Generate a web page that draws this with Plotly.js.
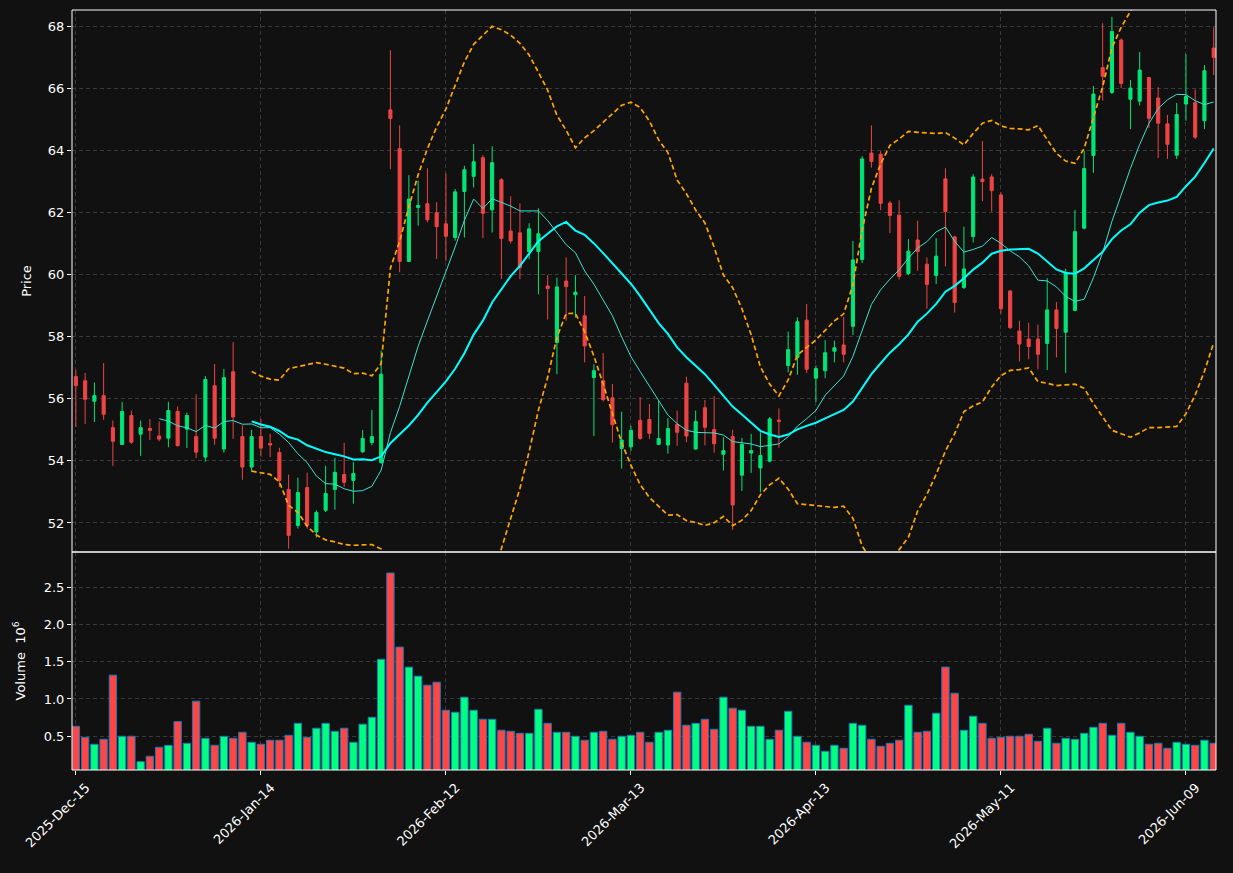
<!DOCTYPE html>
<html>
<head>
<meta charset="utf-8">
<script src="https://cdn.plot.ly/plotly-3.0.1.min.js"></script>
<style>html,body{margin:0;padding:0;background:#111111;}#chart{width:1233px;height:873px;}</style>
</head>
<body>
<div id="chart"></div>
<script>
// ---- data ----
const tickIdx = [0, 20, 40, 60, 80, 100, 120];
const tickLabels = ['2025-Dec-15','2026-Jan-14','2026-Feb-12','2026-Mar-13','2026-Apr-13','2026-May-11','2026-Jun-09'];

const opens = [56.71,56.58,55.92,56.10,55.07,54.53,55.46,54.86,55.04,54.80,
54.73,55.59,55.02,54.78,54.12,56.42,54.38,56.87,54.78,53.80,
54.78,54.56,54.27,53.08,51.92,53.14,51.71,52.41,53.08,53.56,
53.37,54.29,54.59,53.95,65.30,64.05,60.42,62.16,62.28,61.99,
61.63,61.19,62.67,63.16,63.76,62.08,63.05,61.40,61.34,60.74,
60.74,59.63,57.81,59.79,59.35,58.67,56.68,56.58,56.03,54.40,
54.45,55.30,55.33,54.53,54.51,55.17,56.50,54.38,55.71,55.01,
54.21,54.78,53.54,54.25,53.77,53.99,55.31,57.07,57.33,58.53,
56.66,56.90,57.53,57.73,58.33,60.48,63.91,63.87,62.30,61.91,
60.03,61.11,60.33,59.97,63.08,61.21,59.58,61.22,63.07,63.14,
62.56,59.47,58.18,57.92,57.92,57.78,58.86,58.14,58.84,61.49,
63.83,66.66,65.86,67.55,65.64,65.58,66.34,65.68,64.85,63.84,
65.49,65.53,64.95,67.29];
const highs = [56.93,56.83,56.52,57.15,55.30,55.90,55.62,55.30,55.35,55.27,
55.90,55.75,55.55,56.14,56.73,57.12,56.96,57.82,55.14,55.00,
55.35,54.87,54.42,53.56,53.46,53.62,52.41,53.84,54.10,54.58,
53.96,54.99,55.64,57.55,67.22,64.80,63.20,63.02,63.42,62.33,
63.25,62.75,63.50,64.20,63.84,64.13,63.10,62.52,62.29,61.65,
62.13,59.98,59.90,60.55,59.98,59.31,57.11,57.47,56.47,55.58,
55.13,56.05,55.83,55.94,55.37,55.62,56.71,55.62,55.96,56.09,
54.76,55.00,54.74,54.87,54.92,55.41,55.69,58.16,58.62,59.05,
57.07,57.89,57.87,58.64,61.08,63.81,64.80,63.97,62.37,62.39,
61.14,61.73,60.55,61.17,63.42,61.25,61.54,63.23,64.30,63.23,
62.64,59.50,58.51,58.45,58.38,59.88,59.11,60.18,62.08,63.99,
66.07,68.09,68.30,67.60,66.26,67.16,66.35,66.03,65.14,65.52,
67.10,65.96,66.74,67.96];
const lows = [55.09,55.19,55.25,55.32,53.84,54.51,54.55,54.16,54.67,54.63,
54.44,54.46,54.41,54.09,53.97,54.52,54.26,54.71,53.39,53.64,
54.14,54.12,53.16,51.17,51.82,51.82,51.53,52.35,52.43,53.16,
52.62,54.25,54.50,53.90,63.39,60.07,60.40,61.57,61.68,60.50,
60.44,61.09,61.19,62.80,61.17,61.35,59.85,61.00,59.85,60.49,
59.36,58.55,56.79,58.51,58.61,57.17,54.80,55.91,54.59,53.75,
54.32,54.68,54.71,54.50,54.23,54.48,54.60,54.36,54.50,54.26,
53.69,51.78,53.03,53.61,52.99,53.95,54.42,56.85,56.77,56.83,
55.89,56.66,57.17,57.17,58.05,60.37,63.44,62.07,61.33,59.84,
59.98,60.12,58.90,59.69,60.26,58.77,59.53,61.03,62.36,62.02,
58.74,58.24,57.20,57.27,56.95,56.92,57.33,56.83,58.82,61.45,
63.27,65.60,65.81,66.00,64.68,65.44,64.72,63.75,63.72,63.72,
64.95,64.36,64.68,66.42];
const closes = [56.42,55.98,56.10,55.50,54.63,55.59,54.60,55.07,54.98,54.70,
55.62,54.49,55.46,54.28,56.62,54.73,56.68,55.41,53.80,54.78,
54.41,54.51,53.37,51.60,52.98,51.92,52.34,52.95,53.63,53.31,
53.59,54.72,54.78,56.79,65.02,60.42,62.43,62.22,61.76,61.54,
61.23,62.66,63.37,63.63,61.97,63.60,61.16,61.08,60.22,61.47,
61.31,59.55,59.60,59.61,59.43,57.70,56.90,55.97,55.16,54.67,
54.98,54.72,54.89,54.72,55.04,54.92,54.80,55.27,55.08,54.55,
54.33,52.58,54.53,54.33,54.17,55.35,55.27,57.58,58.48,56.95,
56.97,57.48,57.64,57.43,60.47,63.72,63.64,62.29,61.90,59.94,
60.75,60.74,59.68,60.59,62.03,59.10,60.18,63.14,62.99,62.70,
58.90,58.29,57.76,57.68,57.43,58.86,58.26,60.07,61.38,63.41,
65.81,66.38,67.82,66.15,66.00,66.58,65.03,64.87,64.19,65.15,
65.73,64.42,66.56,66.99];
// volume in millions (axis label carries the 10^6)
const volumes = [0.634,0.486,0.393,0.460,1.319,0.500,0.500,0.160,0.232,0.353,
0.379,0.697,0.406,0.970,0.473,0.379,0.500,0.473,0.554,0.420,
0.393,0.447,0.447,0.513,0.674,0.486,0.608,0.674,0.567,0.608,
0.420,0.662,0.755,1.532,2.688,1.695,1.427,1.306,1.185,1.225,
0.849,0.822,1.024,0.849,0.728,0.728,0.581,0.567,0.540,0.540,
0.862,0.674,0.554,0.554,0.500,0.447,0.554,0.567,0.460,0.500,
0.513,0.554,0.420,0.554,0.581,1.091,0.648,0.674,0.728,0.594,
1.024,0.876,0.849,0.634,0.634,0.460,0.581,0.835,0.500,0.420,
0.379,0.299,0.379,0.339,0.674,0.648,0.460,0.366,0.406,0.447,
0.916,0.554,0.567,0.809,1.427,1.077,0.581,0.769,0.674,0.473,
0.486,0.500,0.500,0.527,0.433,0.608,0.406,0.473,0.460,0.540,
0.621,0.674,0.513,0.674,0.554,0.500,0.393,0.406,0.339,0.420,
0.393,0.379,0.447,0.406];

// ---- derived indicators (same as the original: SMA10, SMA20, Bollinger 20/2) ----
const idx = closes.map((_, i) => i);
function sma(a, w) {
  return a.map((_, i) => {
    if (i < w - 1) return null;
    let s = 0; for (let k = i - w + 1; k <= i; k++) s += a[k];
    return s / w;
  });
}
function rstd(a, w) {
  const m = sma(a, w);
  return a.map((_, i) => {
    if (i < w - 1) return null;
    let s = 0; for (let k = i - w + 1; k <= i; k++) s += (a[k] - m[i]) ** 2;
    return Math.sqrt(s / (w - 1));
  });
}
const ma10 = sma(closes, 10);
const ma20 = sma(closes, 20);
const sd20 = rstd(closes, 20);
const bbUp = ma20.map((m, i) => m === null ? null : m + 2 * sd20[i]);
const bbLo = ma20.map((m, i) => m === null ? null : m - 2 * sd20[i]);

const UP = '#00e676', DN = '#ef4444';
const VUP = '#00ff80', VDN = '#ff4545';
const volColors = closes.map((c, i) => c >= opens[i] ? VUP : VDN);

const traces = [
  {type:'candlestick', x: idx, open: opens, high: highs, low: lows, close: closes,
   xaxis:'x', yaxis:'y',
   increasing:{line:{color:UP, width:1}, fillcolor:UP},
   decreasing:{line:{color:DN, width:1}, fillcolor:DN},
   whiskerwidth:0, hoverinfo:'skip'},
  {type:'scatter', mode:'lines', x: idx, y: bbUp, xaxis:'x', yaxis:'y',
   line:{color:'#ffa500', width:1.7, dash:'5px,3px'}, hoverinfo:'skip'},
  {type:'scatter', mode:'lines', x: idx, y: bbLo, xaxis:'x', yaxis:'y',
   line:{color:'#ffa500', width:1.7, dash:'5px,3px'}, hoverinfo:'skip'},
  {type:'scatter', mode:'lines', x: idx, y: ma10, xaxis:'x', yaxis:'y',
   line:{color:'#40e0d0', width:1}, hoverinfo:'skip'},
  {type:'scatter', mode:'lines', x: idx, y: ma20, xaxis:'x', yaxis:'y',
   line:{color:'#00ffff', width:2}, hoverinfo:'skip'},
  {type:'bar', x: idx, y: volumes, xaxis:'x', yaxis:'y2', width:0.8,
   marker:{color: volColors, line:{color:'#1f77b4', width:1}}, hoverinfo:'skip'}
];

const split = (770 - 552) / 760;
const gridCol = '#3a3a3a';
const layout = {
  width:1233, height:873,
  paper_bgcolor:'#111111', plot_bgcolor:'#111111',
  margin:{l:72, r:17, t:10, b:103, pad:0},
  showlegend:false, hovermode:false, boxgap:0.52,
  font:{family:'DejaVu Sans, sans-serif', color:'#ffffff', size:13},
  xaxis:{domain:[0,1], anchor:'y2', range:[-0.42, 123.25],
    tickmode:'array', tickvals:tickIdx, ticktext:tickLabels, tickangle:-45,
    ticklabelshift:10,
    ticks:'outside', ticklen:4, tickcolor:'#ffffff', tickwidth:1,
    showgrid:true, gridcolor:gridCol, griddash:'4px,3px', gridwidth:1,
    zeroline:false, showline:false, rangeslider:{visible:false}},
  yaxis:{domain:[split,1], anchor:'x', range:[51.065, 68.515],
    tickmode:'array', tickvals:[52,54,56,58,60,62,64,66,68],
    ticks:'outside', ticklen:4, tickcolor:'#ffffff',
    showgrid:true, gridcolor:gridCol, griddash:'4px,3px', zeroline:false,
    title:{text:'Price', font:{size:13, color:'#ffffff'}, standoff:13}},
  yaxis2:{domain:[0,split], anchor:'x', range:[0.048, 2.97],
    tickmode:'array', tickvals:[0.5,1.0,1.5,2.0,2.5], ticktext:['0.5','1.0','1.5','2.0','2.5'],
    ticks:'outside', ticklen:4, tickcolor:'#ffffff',
    showgrid:true, gridcolor:gridCol, griddash:'4px,3px', zeroline:false,
    title:{text:'Volume  10<sup>6</sup>', font:{size:13, color:'#ffffff'}, standoff:15}},
  shapes:[
    {type:'rect', xref:'paper', yref:'paper', x0:0, x1:1, y0:split, y1:1, line:{color:'#ffffff', width:1}},
    {type:'rect', xref:'paper', yref:'paper', x0:0, x1:1, y0:0, y1:split, line:{color:'#ffffff', width:1}}
  ]
};

Plotly.newPlot('chart', traces, layout, {displayModeBar:false, staticPlot:true});
</script>
</body>
</html>
